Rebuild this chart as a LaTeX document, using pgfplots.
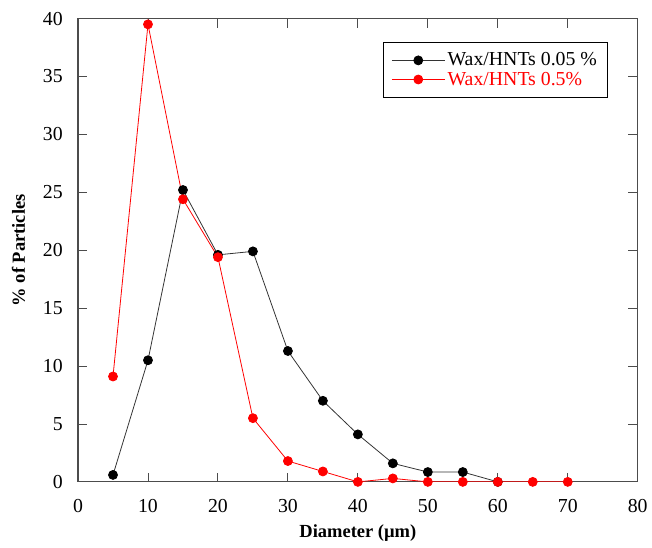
\documentclass[border=0pt]{standalone}
\usepackage{fontspec}
\setmainfont{Liberation Serif}
\usepackage{pgfplots}
\pgfplotsset{compat=1.18}
\begin{document}
\begin{tikzpicture}
\begin{axis}[
  scale only axis,
  width=424pt, height=351pt,
  xmin=0, xmax=80, ymin=0, ymax=40,
  xtick={0,10,...,80}, ytick={0,5,...,40},
  tick align=inside,
  major tick length=7pt,
  axis line style={black!70, line width=0.9pt},
  tick style={black!70, line width=0.7pt},
  every tick label/.append style={font=\fontsize{15}{17}\selectfont},
  yticklabel style={xshift=-8pt, inner ysep=9pt},
  xticklabel style={yshift=-10pt},
  /pgf/number format/assume math mode=true,
  xlabel={\textbf{Diameter (µm)}},
  ylabel={\textbf{\% of Particles}},
  label style={font=\fontsize{14}{16}\selectfont},
  xlabel style={inner ysep=5pt},
  ylabel style={yshift=1pt, inner ysep=9pt},
  legend style={at={(0.947,0.95)}, anchor=north east,
    draw=black, line width=0.8pt, font=\fontsize{15}{17}\selectfont,
    inner xsep=6pt, inner ysep=6pt, row sep=-1pt},
  legend cell align=left,
  legend image code/.code={
    \draw[mark repeat=2, mark phase=2, #1]
      plot coordinates {(0cm,0cm) (0.7cm,0cm) (1.4cm,0cm)};},
]
\addplot[black!80, line width=0.6pt, mark=*, mark size=3.4pt,
  mark options={fill=black, draw=black}]
  coordinates {(5,0.6) (10,10.5) (15,25.2) (20,19.6) (25,19.9) (30,11.3)
    (35,7.0) (40,4.1) (45,1.6) (50,0.85) (55,0.85) (60,0)};
\addlegendentry{Wax/HNTs 0.05 \%}
\addplot[red, line width=0.6pt, mark=*, mark size=3.4pt,
  mark options={fill=red, draw=red}]
  coordinates {(5,9.1) (10,39.5) (15,24.4) (20,19.4) (25,5.5) (30,1.8)
    (35,0.9) (40,0) (45,0.3) (50,0) (55,0) (60,0) (65,0) (70,0)};
\addlegendentry{\textcolor{red}{Wax/HNTs 0.5\%}}
\end{axis}
\end{tikzpicture}
\end{document}
